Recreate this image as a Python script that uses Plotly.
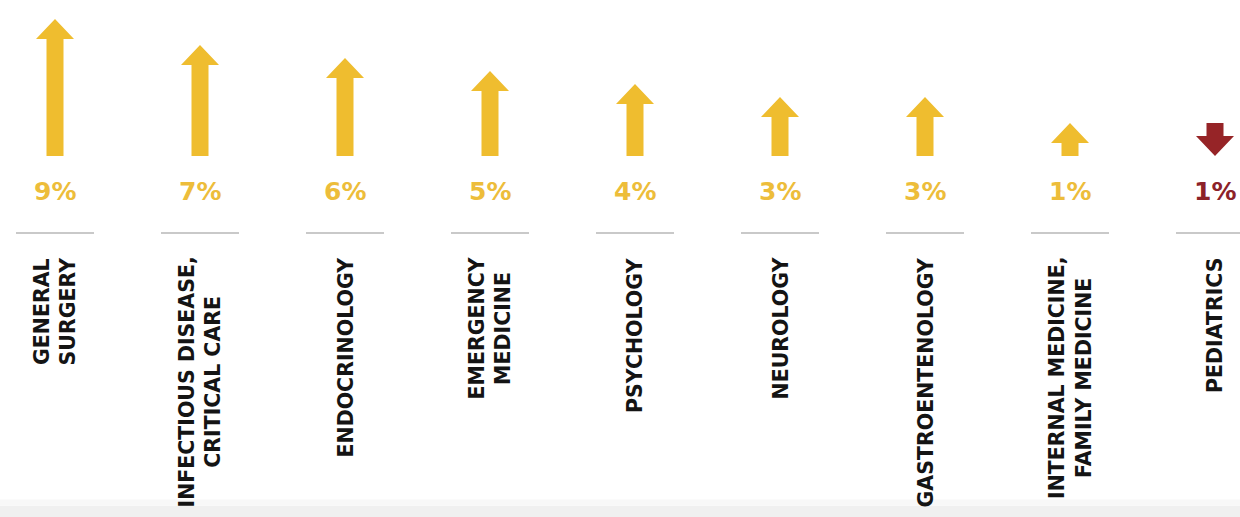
import plotly.graph_objects as go

# ---- data ----
categories = [
    "GENERAL<br>SURGERY",
    "INFECTIOUS DISEASE,<br>CRITICAL CARE",
    "ENDOCRINOLOGY",
    "EMERGENCY<br>MEDICINE",
    "PSYCHOLOGY",
    "NEUROLOGY",
    "GASTROENTENOLOGY",
    "INTERNAL MEDICINE,<br>FAMILY MEDICINE",
    "PEDIATRICS",
]
changes = [9, 7, 6, 5, 4, 3, 3, 1, -1]
value_labels = ["9%", "7%", "6%", "5%", "4%", "3%", "3%", "1%", "1%"]

# ---- style / layout constants ----
W, H = 1240, 517
UP_COLOR = "#EFBD2F"
UP_TEXT = "#EDBD3A"
DOWN_COLOR = "#962427"
DOWN_TEXT = "#8C2229"
LINE_COLOR = "#C9C9C9"

PX_PER_UNIT = 13.0           # vertical pixels per percentage point
ZERO_PX = 136                # pixel row of the 0 level
BASE = -20 / PX_PER_UNIT     # arrow base in axis units
HEAD_LEN = 20 / PX_PER_UNIT
COL_PX = 145.0
SHAFT_HALF = 8.5 / COL_PX
HEAD_HALF = 19 / COL_PX
Y_TOP = ZERO_PX / PX_PER_UNIT
Y_BOT = (ZERO_PX - H) / PX_PER_UNIT
X_LO = -55 / COL_PX
X_HI = X_LO + W / COL_PX

LABEL_Y = (136 - 191) / PX_PER_UNIT
SEP_Y = (136 - 233) / PX_PER_UNIT
SEP_HALF = 39 / COL_PX
CAT_Y = (136 - 255) / PX_PER_UNIT

fig = go.Figure()
# invisible trace to establish axes
fig.add_trace(go.Scatter(x=list(range(len(categories))), y=[abs(v) for v in changes],
                         mode="markers", marker=dict(opacity=0), hoverinfo="skip",
                         showlegend=False))

shapes = []
annotations = []
for i, (cat, v, lab) in enumerate(zip(categories, changes, value_labels)):
    length_top = abs(v)
    if v >= 0:
        tip, tail = length_top, BASE
        shoulder = tip - HEAD_LEN
        color, tcolor = UP_COLOR, UP_TEXT
    else:
        tip, tail = BASE, length_top
        shoulder = tip + HEAD_LEN
        color, tcolor = DOWN_COLOR, DOWN_TEXT
    path = (f"M {i - SHAFT_HALF},{tail} L {i + SHAFT_HALF},{tail} "
            f"L {i + SHAFT_HALF},{shoulder} L {i + HEAD_HALF},{shoulder} "
            f"L {i},{tip} L {i - HEAD_HALF},{shoulder} "
            f"L {i - SHAFT_HALF},{shoulder} Z")
    shapes.append(dict(type="path", path=path, xref="x", yref="y",
                       fillcolor=color, line=dict(width=0)))
    shapes.append(dict(type="line", xref="x", yref="y",
                       x0=i - SEP_HALF, x1=i + SEP_HALF, y0=SEP_Y, y1=SEP_Y,
                       line=dict(color=LINE_COLOR, width=2)))
    annotations.append(dict(x=i, y=LABEL_Y, xref="x", yref="y", text=f"<b>{lab}</b>",
                            showarrow=False, xanchor="center", yanchor="middle",
                            font=dict(family="DejaVu Sans", size=25, color=tcolor)))
    annotations.append(dict(x=i, y=CAT_Y, xref="x", yref="y", text=f"<b>{cat}</b>",
                            showarrow=False, textangle=-90, xanchor="center",
                            yanchor="top", align="center",
                            font=dict(family="DejaVu Sans", size=20.5, color="#141414")))

# faint bottom shading band
shapes.append(dict(type="rect", xref="paper", yref="paper", x0=0, x1=1, y0=0, y1=0.022,
                   fillcolor="#F0F0F0", line=dict(width=0), layer="below"))
shapes.append(dict(type="rect", xref="paper", yref="paper", x0=0, x1=1, y0=0.022, y1=0.034,
                   fillcolor="#F8F8F8", line=dict(width=0), layer="below"))

fig.update_layout(
    width=W, height=H,
    margin=dict(l=0, r=0, t=0, b=0),
    paper_bgcolor="white", plot_bgcolor="white",
    xaxis=dict(range=[X_LO, X_HI], visible=False, fixedrange=True),
    yaxis=dict(range=[Y_BOT, Y_TOP], visible=False, fixedrange=True),
    shapes=shapes, annotations=annotations,
    showlegend=False,
)

fig.write_html("out.html", config={"displayModeBar": False},
               post_script="document.body.style.margin='0';document.body.style.overflow='hidden';")
